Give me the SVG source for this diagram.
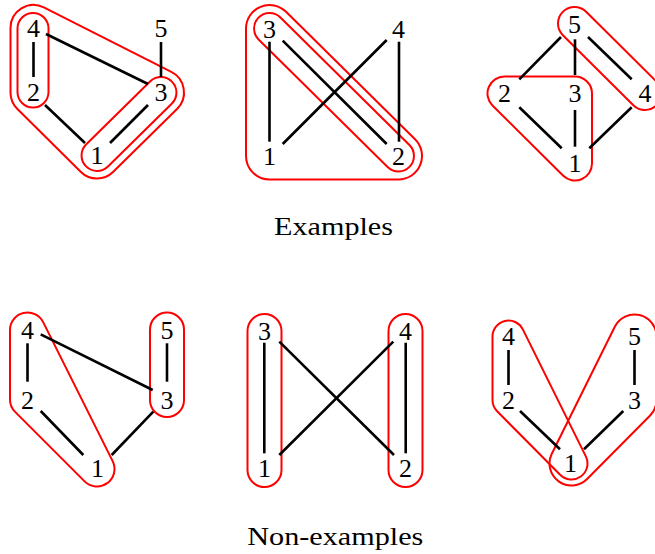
<svg xmlns="http://www.w3.org/2000/svg" width="655" height="554" viewBox="0 0 655 554">
<style>
.n{font-family:"Liberation Serif","Times New Roman",serif;font-size:26px;text-anchor:middle;fill:#000}
.t{font-family:"Liberation Serif","Times New Roman",serif;font-size:26px;text-anchor:middle;fill:#000}
.e{stroke:#000;stroke-width:2.6;fill:none}
.h{stroke:#ff0000;stroke-width:2;fill:none}
</style>
<rect width="655" height="554" fill="#fff"/>
<g id="hulls">
<rect class="h" x="17.5" y="13" width="31" height="94.5" rx="15.5"/>
<path class="h" d="M107.96 166.46 L171.96 103.46 A15.5 15.5 0 0 0 150.04 81.54 L86.04 144.54 A15.5 15.5 0 0 0 107.96 166.46 Z"/>
<path class="h" d="M43.82 7.44 L171.32 71.94 A23 23 0 0 1 177.26 108.76 L113.26 171.76 A23 23 0 0 1 80.67 171.7 L17.17 108.7 A23 23 0 0 1 10.5 92.5 L10.5 28 A23 23 0 0 1 43.82 7.44 Z"/>
<path class="h" d="M280.42 17.5 L409.42 145 A15.5 15.5 0 0 1 387.58 167 L258.58 39.5 A15.5 15.5 0 0 1 280.42 17.5 Z"/>
<path class="h" d="M286.05 11.82 L415.05 139.32 A23.5 23.5 0 0 1 398.5 179.5 L269.5 179.5 A23.5 23.5 0 0 1 246 156 L246 28.5 A23.5 23.5 0 0 1 286.05 11.82 Z"/>
<path class="h" d="M586.13 11.79 L656.63 81.79 A16.5 16.5 0 0 1 633.37 105.21 L562.87 35.21 A16.5 16.5 0 0 1 586.13 11.79 Z"/>
<path class="h" d="M504.5 76.5 L575 76.5 A17 17 0 0 1 592 93.5 L592 163.5 A17 17 0 0 1 562.98 175.52 L492.48 105.52 A17 17 0 0 1 504.5 76.5 Z"/>
<path class="h" d="M43.15 322.17 L112.65 461.17 A17.5 17.5 0 0 1 84.63 481.37 L15.13 411.87 A17.5 17.5 0 0 1 10 399.5 L10 330 A17.5 17.5 0 0 1 43.15 322.17 Z"/>
<rect class="h" x="150" y="312.5" width="34" height="104.5" rx="17"/>
<rect class="h" x="247.5" y="314" width="34" height="173" rx="17"/>
<rect class="h" x="388.5" y="314" width="34" height="173" rx="17"/>
<path class="h" d="M522.83 329.39 L585.83 456.39 A16 16 0 0 1 560.14 474.77 L497.14 411.27 A16 16 0 0 1 492.5 400 L492.5 336.5 A16 16 0 0 1 522.83 329.39 Z"/>
<path class="h" d="M656.5 336.5 L656.5 400 A22 22 0 0 1 650.12 415.49 L587.12 478.99 A22 22 0 0 1 551.79 453.72 L614.79 326.72 A22 22 0 0 1 656.5 336.5 Z"/>
</g>
<g id="connectors">
<line class="e" x1="33.5" y1="42" x2="33.5" y2="77"/>
<line class="e" x1="46" y1="34" x2="148" y2="84"/>
<line class="e" x1="45" y1="105" x2="85" y2="143"/>
<line class="e" x1="110" y1="143" x2="148" y2="105"/>
<line class="e" x1="161" y1="42" x2="161" y2="77"/>
<line class="e" x1="269.5" y1="41.7" x2="269.5" y2="141.7"/>
<line class="e" x1="282.7" y1="40.7" x2="386.7" y2="144"/>
<line class="e" x1="386.7" y1="40" x2="282.7" y2="144"/>
<line class="e" x1="399" y1="41.7" x2="399" y2="141.7"/>
<line class="e" x1="561" y1="37" x2="519.3" y2="79.3"/>
<line class="e" x1="575" y1="39.3" x2="575" y2="75"/>
<line class="e" x1="588" y1="37" x2="631.7" y2="79.3"/>
<line class="e" x1="519.3" y1="107.3" x2="561.7" y2="148.3"/>
<line class="e" x1="575" y1="110" x2="575" y2="146.7"/>
<line class="e" x1="631.7" y1="107.3" x2="589.3" y2="148.3"/>
<line class="e" x1="27.5" y1="343.3" x2="27.5" y2="381.7"/>
<line class="e" x1="40.7" y1="334.3" x2="152.7" y2="390"/>
<line class="e" x1="40.7" y1="411" x2="83.3" y2="455"/>
<line class="e" x1="153.3" y1="411.7" x2="111.7" y2="455"/>
<line class="e" x1="167" y1="343.3" x2="167" y2="381.7"/>
<line class="e" x1="264.3" y1="342.7" x2="264.3" y2="453.3"/>
<line class="e" x1="279.3" y1="341.7" x2="394" y2="455"/>
<line class="e" x1="393.3" y1="341.7" x2="279.3" y2="455"/>
<line class="e" x1="405.7" y1="342.7" x2="405.7" y2="453.3"/>
<line class="e" x1="508.5" y1="350" x2="508.5" y2="385"/>
<line class="e" x1="520" y1="411" x2="560" y2="449.3"/>
<line class="e" x1="623.3" y1="411" x2="584" y2="449.3"/>
<line class="e" x1="634.5" y1="350" x2="634.5" y2="385"/>
</g>
<g id="t1-4"><text class="n" x="33.5" y="36.8">4</text></g>
<g id="t1-2"><text class="n" x="33.5" y="101.3">2</text></g>
<g id="t1-1"><text class="n" x="97" y="164.3">1</text></g>
<g id="t1-3"><text class="n" x="161" y="101.3">3</text></g>
<g id="t1-5"><text class="n" x="161" y="36.8">5</text></g>
<g id="t2-3"><text class="n" x="269.5" y="37.8">3</text></g>
<g id="t2-4"><text class="n" x="398.5" y="37.8">4</text></g>
<g id="t2-1"><text class="n" x="269.5" y="165.3">1</text></g>
<g id="t2-2"><text class="n" x="398.5" y="165.3">2</text></g>
<g id="t3-5"><text class="n" x="574.5" y="33.3">5</text></g>
<g id="t3-2"><text class="n" x="504.5" y="102.3">2</text></g>
<g id="t3-3"><text class="n" x="575" y="102.3">3</text></g>
<g id="t3-4"><text class="n" x="645" y="102.3">4</text></g>
<g id="t3-1"><text class="n" x="575" y="172.3">1</text></g>
<g id="b1-4"><text class="n" x="27.5" y="338.8">4</text></g>
<g id="b1-2"><text class="n" x="27.5" y="408.8">2</text></g>
<g id="b1-1"><text class="n" x="97.5" y="477.3">1</text></g>
<g id="b1-5"><text class="n" x="167" y="338.8">5</text></g>
<g id="b1-3"><text class="n" x="167" y="408.8">3</text></g>
<g id="b2-3"><text class="n" x="264.5" y="339.8">3</text></g>
<g id="b2-1"><text class="n" x="264.5" y="477.3">1</text></g>
<g id="b2-4"><text class="n" x="405.5" y="339.8">4</text></g>
<g id="b2-2"><text class="n" x="405.5" y="477.3">2</text></g>
<g id="b3-4"><text class="n" x="508.5" y="345.3">4</text></g>
<g id="b3-2"><text class="n" x="508.5" y="408.8">2</text></g>
<g id="b3-1"><text class="n" x="570.5" y="472.3">1</text></g>
<g id="b3-5"><text class="n" x="634.5" y="345.3">5</text></g>
<g id="b3-3"><text class="n" x="634.5" y="408.8">3</text></g>
<g id="label-examples"><text class="t" x="333.5" y="235" textLength="119" lengthAdjust="spacingAndGlyphs">Examples</text></g>
<g id="label-nonexamples"><text class="t" x="335.3" y="545" textLength="176" lengthAdjust="spacingAndGlyphs">Non-examples</text></g>
</svg>
